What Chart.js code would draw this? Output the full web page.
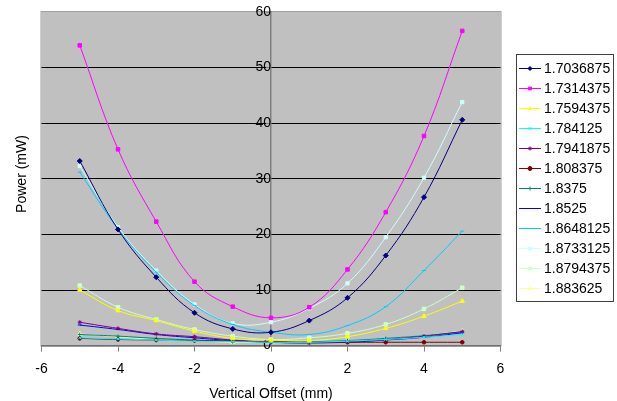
<!DOCTYPE html>
<html>
<head>
<meta charset="utf-8">
<title>Power vs Vertical Offset</title>
<script src="https://cdn.jsdelivr.net/npm/chart.js@4.4.0/dist/chart.umd.min.js"></script>
<style>
  html, body { margin: 0; padding: 0; background: #fff; }
  #wrap { position: relative; width: 617px; height: 401px; }
  #legend {
    position: absolute; left: 516px; top: 54px; width: 98px; height: 248px;
    box-sizing: border-box; border: 1px solid #404040; background: #fff;
    padding-top: 3px;
    font-family: 'Liberation Sans', Arial, sans-serif; font-size: 14px; color: #000;
  }
  #legend .row { display: flex; align-items: center; height: 20px; white-space: nowrap; }
  #legend canvas { margin-left: 2px; margin-right: 3px; }
</style>
</head>
<body>
<div id="wrap">
  <canvas id="powerChart" width="617" height="401"></canvas>
  <div id="legend"></div>
</div>
<script>
// --- Data ---
const offsets = [-5, -4, -3, -2, -1, 0, 1, 2, 3, 4, 5];
const xTicks = [-6, -4, -2, 0, 2, 4, 6];
const yTicks = [0, 10, 20, 30, 40, 50, 60];
const wavelengths = ['1.7036875', '1.7314375', '1.7594375', '1.784125', '1.7941875', '1.808375',
                     '1.8375', '1.8525', '1.8648125', '1.8733125', '1.8794375', '1.883625'];

const power1 = [33.2, 20.9, 12.3, 5.9, 3.0, 2.4, 4.5, 8.6, 16.2, 26.7, 40.6];
const power2 = [54.0, 35.3, 22.3, 11.5, 7.0, 5.0, 6.9, 13.7, 24.0, 37.7, 56.6];
const power3 = [10.0, 6.3, 4.5, 2.6, 1.3, 1.0, 0.9, 1.6, 3.1, 5.3, 8.0];
const power4 = [1.4, 1.2, 1.0, 0.8, 0.7, 0.6, 0.6, 0.8, 1.1, 1.5, 2.0];
const power5 = [4.2, 3.1, 2.1, 1.6, 1.0, 0.6, 0.5, 0.7, 1.1, 1.7, 2.5];
const power6 = [1.3, 1.1, 1.0, 0.9, 0.8, 0.7, 0.6, 0.6, 0.6, 0.6, 0.6];
const power7 = [2.0, 1.7, 1.3, 1.0, 0.8, 0.7, 0.7, 0.9, 1.3, 1.8, 2.5];
const power8 = [3.7, 2.9, 2.0, 1.4, 0.9, 0.6, 0.5, 0.6, 1.0, 1.5, 2.3];
const power9 = [31.2, 21.0, 13.2, 7.2, 3.8, 2.4, 2.0, 3.6, 7.0, 13.5, 20.6];
const power10 = [32.3, 21.3, 13.5, 7.4, 4.0, 4.2, 6.7, 11.2, 19.5, 30.2, 43.8];
const power11 = [10.8, 6.9, 4.7, 2.9, 1.7, 1.1, 1.4, 2.2, 3.8, 6.6, 10.4];
const power12 = [2.1, 1.6, 1.1, 0.9, 0.6, 0.6, 0.6, 0.8, 1.2, 1.8, 2.6];

const seriesValues = [power1, power2, power3, power4, power5, power6,
                      power7, power8, power9, power10, power11, power12];

// Excel default series styling
const seriesColors = ['#000080', '#FF00FF', '#FFFF00', '#00FFFF', '#800080', '#800000',
                      '#008080', '#0000FF', '#00CCFF', '#CCFFFF', '#CCFFCC', '#FFFF99'];
const seriesMarkers = ['rectRot', 'rect', 'triangle', 'crossRot', 'star', 'circle',
                       'cross', 'line', 'line', 'rect', 'rect', 'triangle'];
const markerSizes = [2.5, 2.5, 2.5, 2, 2, 1.8, 2, 2, 2, 2.3, 2.5, 2.5];

const FONT = "'Liberation Sans', Arial, sans-serif";

const datasets = seriesValues.map((values, i) => ({
    label: wavelengths[i],
    data: values.map((v, j) => ({ x: offsets[j], y: v })),
    borderColor: seriesColors[i],
    backgroundColor: seriesColors[i],
    pointBackgroundColor: seriesColors[i],
    pointBorderColor: seriesColors[i],
    pointStyle: seriesMarkers[i],
    pointRadius: markerSizes[i],
    pointBorderWidth: 1,
    borderWidth: 1,
    tension: 0.4,
    fill: false
}));

// Grey plot area with thin frame, and the rotated y title
const plotBackground = {
    id: 'plotBackground',
    beforeDraw(chart) {
        const { ctx, chartArea: a } = chart;
        ctx.save();
        ctx.fillStyle = '#C0C0C0';
        ctx.fillRect(a.left, a.top, a.right - a.left, a.bottom - a.top);
        ctx.strokeStyle = '#A0A0A0';
        ctx.lineWidth = 1;
        ctx.strokeRect(a.left - 0.5, a.top - 0.5, a.right - a.left + 1, a.bottom - a.top + 1);
        ctx.restore();
    },
    afterDraw(chart) {
        const ctx = chart.ctx;
        ctx.save();
        ctx.translate(22, 174);
        ctx.rotate(-Math.PI / 2);
        ctx.font = '14px ' + FONT;
        ctx.fillStyle = '#000';
        ctx.textAlign = 'center';
        ctx.textBaseline = 'middle';
        ctx.fillText('Power (mW)', 0, 0);
        ctx.restore();
    }
};

const ctx = document.getElementById('powerChart').getContext('2d');
new Chart(ctx, {
    type: 'line',
    data: { datasets: datasets },
    options: {
        responsive: false,
        animation: false,
        layout: { padding: { left: 41.5, right: 116.5, top: 12, bottom: 0 } },
        plugins: { legend: { display: false }, tooltip: { enabled: false } },
        scales: {
            x: {
                type: 'linear',
                position: 'bottom',
                min: xTicks[0],
                max: xTicks[xTicks.length - 1],
                afterBuildTicks: (scale) => { scale.ticks = xTicks.map(v => ({ value: v })); },
                ticks: { color: '#000', font: { family: FONT, size: 14, lineHeight: 1.1 }, padding: 10 },
                grid: { drawOnChartArea: false, drawTicks: true, tickLength: 6, color: '#808080' },
                border: { color: '#707070', width: 1.5 },
                title: {
                    display: true, text: 'Vertical Offset (mm)', color: '#000',
                    font: { family: FONT, size: 14, lineHeight: 1.0 }, padding: { top: 0, bottom: 0 }
                }
            },
            y: {
                type: 'linear',
                position: { x: 0 },
                min: yTicks[0],
                max: yTicks[yTicks.length - 1],
                afterBuildTicks: (scale) => { scale.ticks = yTicks.map(v => ({ value: v })); },
                // labels may overhang the plot top, as in the original
                afterFit: (scale) => { scale.paddingTop = 0; scale.paddingBottom = 0; },
                ticks: { color: '#000', font: { family: FONT, size: 14 }, padding: 8 },
                grid: {
                    color: (c) => (c.tick && (c.tick.value === 0 || c.tick.value === 60)) ? 'rgba(0,0,0,0)' : '#000',
                    tickColor: '#808080',
                    tickLength: 4,
                    lineWidth: 1
                },
                border: { color: '#808080', width: 1.5 }
            }
        }
    },
    plugins: [plotBackground]
});

// --- Legend (line sample + marker, like Excel) ---
const legendBox = document.getElementById('legend');
wavelengths.forEach((name, i) => {
    const row = document.createElement('div');
    row.className = 'row';
    const icon = document.createElement('canvas');
    icon.width = 22;
    icon.height = 12;
    const ic = icon.getContext('2d');
    ic.strokeStyle = seriesColors[i];
    ic.fillStyle = seriesColors[i];
    ic.lineWidth = 1;
    ic.beginPath();
    ic.moveTo(0, 6.5);
    ic.lineTo(22, 6.5);
    ic.stroke();
    if (Chart.helpers && Chart.helpers.drawPoint) {
        Chart.helpers.drawPoint(ic, { pointStyle: seriesMarkers[i], radius: 2, borderWidth: 1, rotation: 0 }, 11, 6.5);
    } else {
        ic.fillRect(9, 4.5, 4, 4);
    }
    const text = document.createElement('span');
    text.textContent = name;
    row.appendChild(icon);
    row.appendChild(text);
    legendBox.appendChild(row);
});
</script>
</body>
</html>
